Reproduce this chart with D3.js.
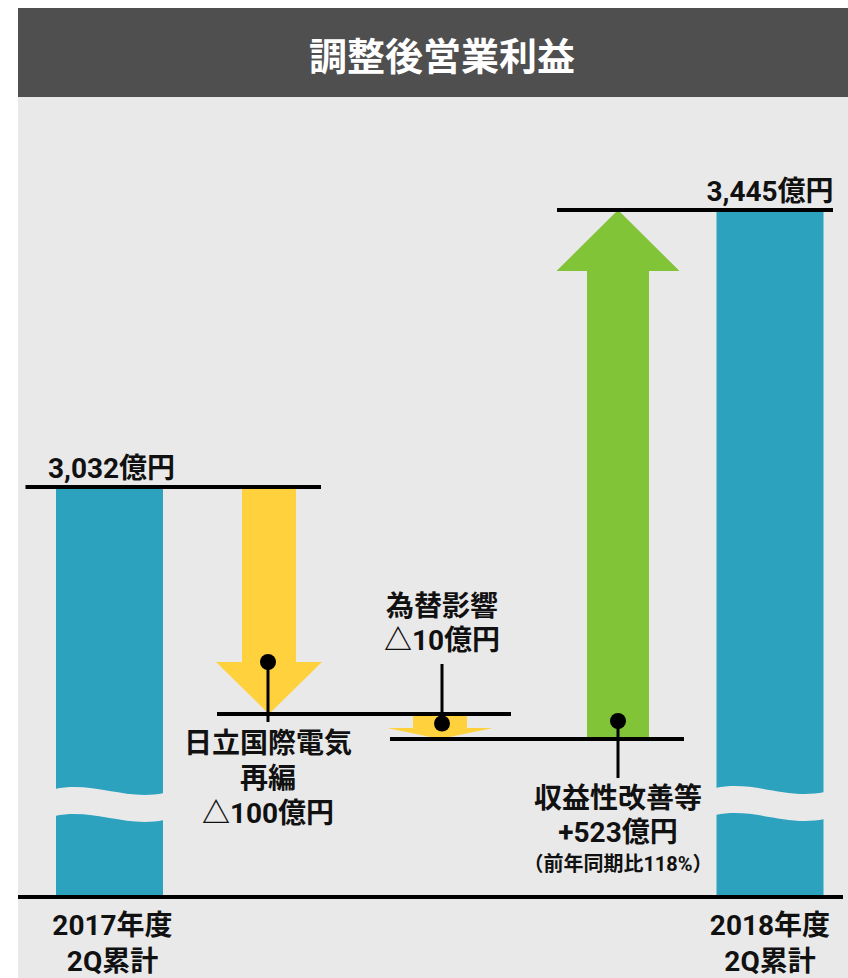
<!DOCTYPE html>
<html><head><meta charset="utf-8">
<script src="https://cdn.jsdelivr.net/npm/d3@7"></script>
<style>
body{margin:0;background:#fff}
svg{display:block}
text{font-family:Roboto,"Noto Sans CJK JP",sans-serif;font-weight:700}
</style>
</head><body>
<svg id="c" width="848" height="978"></svg>
<script>
// ---- data ----
const title = "調整後営業利益";
const periods = [["2017年度", "2Q累計"], ["2018年度", "2Q累計"]];
const totals = [3032, 3445];
const changeNames = [["日立国際電気", "再編"], ["為替影響"], ["収益性改善等"]];
const changes = [-100, -10, 523];
const changeNotes = ["", "", "（前年同期比118%）"];
const unit = "億円";

// ---- layout / style ----
const W = 848, H = 978;
const colors = {bar: "#2ca2bf", down: "#ffd13d", up: "#82c438", panel: "#e9e9e9", head: "#4f4f4f"};
const baselineY = 897;
const svg = d3.select("#c");

// cumulative levels
const levels = [totals[0]];
changes.forEach(d => levels.push(levels[levels.length - 1] + d));

// schematic (broken-axis) value scale
const ySorted = levels.slice().sort((a, b) => a - b);
const y = d3.scaleLinear().domain(ySorted).range([739, 714, 487, 210]);
// horizontal positions of the 5 steps
const x = d3.scaleLinear().domain([0, 1, 2, 3, 4]).range([109.5, 269, 440, 618, 770]);

const fmt = d3.format(",");
const signed = v => (v < 0 ? "△" + fmt(-v) : "+" + fmt(v)) + unit;

// multi-line text helper: one <text> with tspans
function multi(xp, yp, lines, spacing, size) {
  const t = svg.append("text").attr("x", xp).attr("y", yp).attr("text-anchor", "middle")
    .attr("font-size", size).attr("fill", "#111");
  lines.forEach((l, k) => {
    const sp = t.append("tspan").attr("x", xp).attr("dy", k === 0 ? 0 : spacing[k - 1]).text(l.text);
    if (l.size) sp.attr("font-size", l.size);
  });
  return t;
}

// background
svg.append("rect").attr("x", 18).attr("y", 97).attr("width", W - 18).attr("height", H - 97).attr("fill", colors.panel);
svg.append("rect").attr("x", 18).attr("y", 8).attr("width", W - 18).attr("height", 89).attr("fill", colors.head);
svg.append("text").attr("x", 442).attr("y", 70).attr("text-anchor", "middle")
  .attr("fill", "#fff").attr("font-size", 38).text(title);

// arrows layer
const arrowLayer = svg.append("g");
const lineLayer = svg.append("g");
const markLayer = svg.append("g");

// total bars
const barW = 107;
const barIdx = [0, 4];
const gapY = [789, 788];
totals.forEach((v, i) => {
  const cx = x(barIdx[i]);
  const x0 = cx - barW / 2, x1 = cx + barW / 2;
  arrowLayer.append("rect").attr("x", x0).attr("y", y(v)).attr("width", barW)
    .attr("height", baselineY - y(v)).attr("fill", colors.bar);
  const g = gapY[i], h = 27, w = barW;
  arrowLayer.append("path").attr("fill", colors.panel)
    .attr("d", `M${x0 - 1},${g} C${x0 + 0.35 * w},${g - 8} ${x0 + 0.65 * w},${g + 12} ${x1 + 1},${g + 4}
      L${x1 + 1},${g + 4 + h} C${x0 + 0.65 * w},${g + 12 + h} ${x0 + 0.35 * w},${g - 8 + h} ${x0 - 1},${g + h} Z`);
  svg.append("text").attr("x", cx + 2 - i * 2).attr("y", y(v) - 9).attr("text-anchor", "middle")
    .attr("font-size", 28).attr("fill", "#111").text(fmt(v) + unit);
  multi(cx + 3 - i * 3, 935, periods[i].map(t => ({text: t})), [36], 28);
});

// connector lines
const connectors = [[x(0) - 84, x(1) + 52], [x(1) - 52, x(2) + 71], [x(2) - 50, x(3) + 66], [x(3) - 61, x(4) + 63]];
connectors.forEach((c, i) => {
  lineLayer.append("line").attr("x1", c[0]).attr("x2", c[1]).attr("y1", y(levels[i])).attr("y2", y(levels[i]))
    .attr("stroke", "#000").attr("stroke-width", 4);
});

// arrows
const arrowStyle = [
  {shaft: 54, head: 106, headH: 52},
  {shaft: 54, head: 106, headH: 11},
  {shaft: 62, head: 123, headH: 61}
];
changes.forEach((d, i) => {
  const cx = x(i + 1);
  const y0 = y(levels[i]), y1 = y(levels[i + 1]);
  const s = arrowStyle[i];
  const dir = y1 > y0 ? 1 : -1;
  const hb = y1 - dir * s.headH;
  const p = d3.path();
  p.moveTo(cx - s.shaft / 2, y0);
  p.lineTo(cx - s.shaft / 2, hb);
  p.lineTo(cx - s.head / 2, hb);
  p.lineTo(cx, y1);
  p.lineTo(cx + s.head / 2, hb);
  p.lineTo(cx + s.shaft / 2, hb);
  p.lineTo(cx + s.shaft / 2, y0);
  p.closePath();
  arrowLayer.append("path").attr("d", p.toString()).attr("fill", d < 0 ? colors.down : colors.up);
});

// dots, leaders and labels
const dotY = [y(levels[1]) - 52, (y(levels[1]) + y(levels[2])) / 2 - 3, y(levels[2]) - 18];
const leaderEnd = [722, 664, 778];
const labelTop = [753, 616, 808];
const labelGap = [[35, 35], [34], [34, 29]];
changes.forEach((d, i) => {
  const cx = x(i + 1) - (i === 0 ? 1 : 0) + (i === 1 ? 2 : 0);
  markLayer.append("line").attr("x1", cx).attr("x2", cx).attr("y1", dotY[i]).attr("y2", leaderEnd[i])
    .attr("stroke", "#000").attr("stroke-width", 3);
  markLayer.append("circle").attr("cx", cx).attr("cy", dotY[i]).attr("r", 8).attr("fill", "#000");
  const lines = changeNames[i].map(t => ({text: t})).concat([{text: signed(d)}]);
  if (changeNotes[i]) lines.push({text: changeNotes[i], size: 20});
  multi(cx, labelTop[i], lines, labelGap[i], 28);
});

// baseline
svg.append("line").attr("x1", 18).attr("x2", 843).attr("y1", baselineY).attr("y2", baselineY)
  .attr("stroke", "#000").attr("stroke-width", 4);
</script>
</body></html>
